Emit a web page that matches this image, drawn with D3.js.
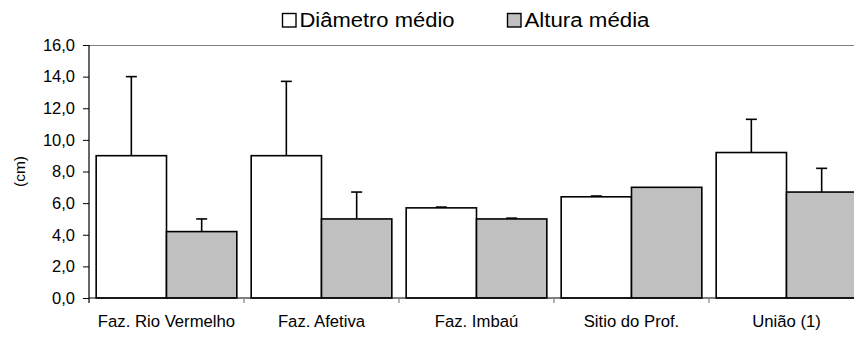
<!DOCTYPE html>
<html>
<head>
<meta charset="utf-8">
<script src="https://cdn.jsdelivr.net/npm/d3@7"></script>
<style>
  body { margin: 0; background: #fff; }
  svg { display: block; font-family: Arial, "Liberation Sans", sans-serif; }
</style>
</head>
<body>
<svg id="chart" width="854" height="338"></svg>
<script>
// data
var sites = ["Faz. Rio Vermelho", "Faz. Afetiva", "Faz. Imbaú", "Sitio do Prof.", "União (1)"];
var series = ["Diâmetro médio", "Altura média"];
var diametro = [9.0, 9.0, 5.7, 6.4, 9.2];
var diametroErr = [5.0, 4.7, 0.05, 0.05, 2.1];
var altura = [4.2, 5.0, 5.0, 7.0, 6.7];
var alturaErr = [0.8, 1.7, 0.05, 0.0, 1.5];
var yTicks = [0, 2, 4, 6, 8, 10, 12, 14, 16];

var colors = ["#ffffff", "#c0c0c0"];

var svg = d3.select("#chart");
var margin = { left: 89, top: 45, bottom: 40 };
var plotW = 775, plotH = 338 - margin.top - margin.bottom;

var x = d3.scaleBand().domain(sites).range([margin.left, margin.left + plotW]).paddingInner(0).paddingOuter(0);
var xs = d3.scaleBand().domain(series).range([0, x.bandwidth()]).paddingOuter(0.102).paddingInner(0);
var y = d3.scaleLinear().domain([0, 16]).range([margin.top + plotH, margin.top]);

var rows = sites.map((s, i) => ({
    site: s,
    vals: [
        { key: series[0], v: diametro[i], e: diametroErr[i], c: colors[0] },
        { key: series[1], v: altura[i], e: alturaErr[i], c: colors[1] }
    ]
}));

// top border of plot area
svg.append("line")
    .attr("x1", margin.left).attr("x2", margin.left + plotW)
    .attr("y1", y(16) + 0.5).attr("y2", y(16) + 0.5)
    .attr("stroke", "#808080").attr("stroke-width", 1);

// bars
var g = svg.selectAll("g.site").data(rows).enter().append("g")
    .attr("class", "site")
    .attr("transform", d => "translate(" + x(d.site) + ",0)");

// error bars (drawn first so the bar outline sits on top)
g.selectAll("g.err").data(d => d.vals.filter(v => v.e > 0)).enter().append("g")
    .attr("class", "err")
    .each(function (d) {
        var cx = xs(d.key) + xs.bandwidth() / 2;
        var sel = d3.select(this);
        sel.append("line")
            .attr("x1", cx).attr("x2", cx)
            .attr("y1", y(d.v)).attr("y2", y(d.v + d.e))
            .attr("stroke", "#000").attr("stroke-width", 1.6);
        sel.append("line")
            .attr("x1", cx - 5.5).attr("x2", cx + 5.5)
            .attr("y1", y(d.v + d.e)).attr("y2", y(d.v + d.e))
            .attr("stroke", "#000").attr("stroke-width", 1.6);
    });

g.selectAll("rect").data(d => d.vals).enter().append("rect")
    .attr("x", d => xs(d.key))
    .attr("y", d => y(d.v))
    .attr("width", xs.bandwidth())
    .attr("height", d => y(0) - y(d.v))
    .attr("fill", d => d.c)
    .attr("stroke", "#000")
    .attr("stroke-width", 1.6);

// y axis
var yAxis = svg.append("g")
    .attr("transform", "translate(" + margin.left + ",0)")
    .call(d3.axisLeft(y).tickValues(yTicks).tickSize(6).tickPadding(8)
        .tickFormat(d => d3.format(".1f")(d).replace(".", ",")));
yAxis.select(".domain").attr("stroke", "#000").attr("stroke-width", 1.2)
    .attr("d", "M0," + (y(16)) + "V" + (y(0) + 5));
yAxis.selectAll(".tick line").attr("stroke", "#000");
yAxis.selectAll("text").attr("font-size", 16.5).attr("fill", "#000")
    .attr("font-family", "Arial, 'Liberation Sans', sans-serif");

// x axis
var xAxisG = svg.append("g");
xAxisG.append("line")
    .attr("x1", margin.left).attr("x2", margin.left + plotW)
    .attr("y1", y(0)).attr("y2", y(0))
    .attr("stroke", "#000").attr("stroke-width", 1.2);
xAxisG.selectAll("line.tk").data(sites.slice(1)).enter().append("line")
    .attr("class", "tk")
    .attr("x1", d => x(d)).attr("x2", d => x(d))
    .attr("y1", y(0)).attr("y2", y(0) + 5)
    .attr("stroke", "#808080").attr("stroke-width", 1.2);
xAxisG.selectAll("text").data(sites).enter().append("text")
    .attr("x", d => x(d) + x.bandwidth() / 2)
    .attr("y", y(0) + 29)
    .attr("text-anchor", "middle")
    .attr("font-size", 16.7)
    .text(d => d);

// y label
svg.append("text")
    .attr("transform", "translate(25," + (margin.top + plotH / 2) + ") rotate(-90)")
    .attr("text-anchor", "middle")
    .attr("font-size", 15.5)
    .text("(cm)");

// legend
var legX = [282, 507];
var legW = [155, 125];
var leg = svg.selectAll("g.leg").data(series).enter().append("g")
    .attr("class", "leg")
    .attr("transform", (d, i) => "translate(" + legX[i] + ",13)");
leg.append("rect")
    .attr("x", 0.5).attr("y", 0.5)
    .attr("width", 13.5).attr("height", 13.5)
    .attr("fill", (d, i) => colors[i])
    .attr("stroke", "#000").attr("stroke-width", 1.4);
leg.append("text")
    .attr("x", 17.5).attr("y", 13.5)
    .attr("font-size", 19.5)
    .attr("textLength", (d, i) => legW[i])
    .attr("lengthAdjust", "spacingAndGlyphs")
    .text(d => d);
</script>
</body>
</html>
